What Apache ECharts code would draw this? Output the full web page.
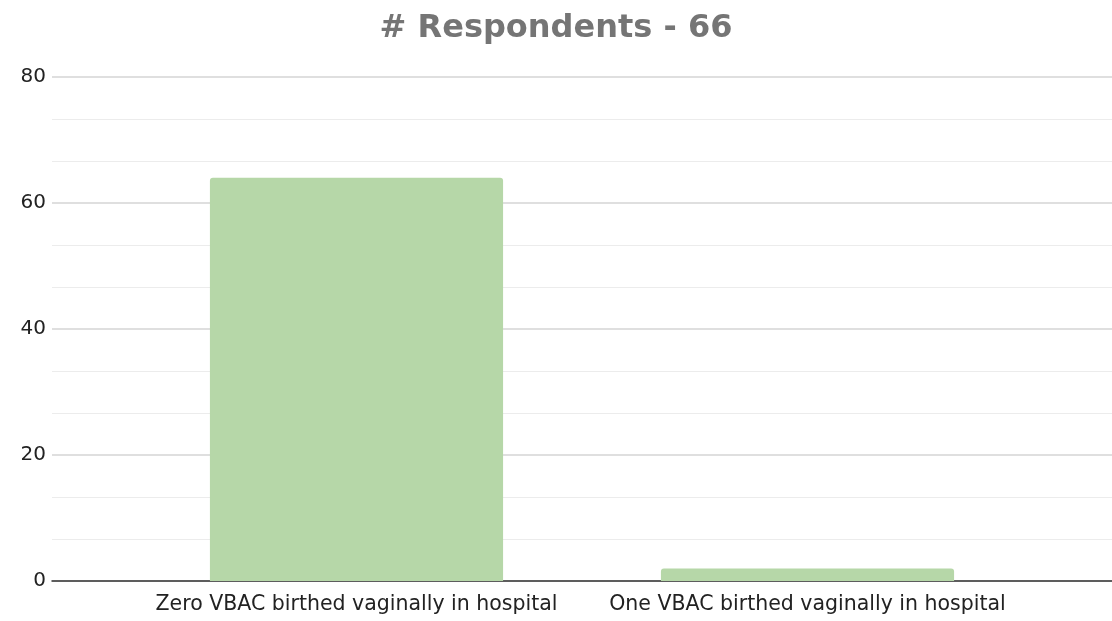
<!DOCTYPE html>
<html><head><meta charset="utf-8">
<script src="https://cdn.jsdelivr.net/npm/echarts@6/dist/echarts.min.js"></script>
<style>html,body{margin:0;padding:0;background:#fff}#c{width:1112px;height:621px}</style>
</head><body><div id="c"></div>
<script>
const titleText = '# Respondents - 66';
const categories = ['Zero VBAC birthed vaginally in hospital', 'One VBAC birthed vaginally in hospital'];
const values = [64, 2];
const yTicks = [0, 20, 40, 60, 80];

const chart = echarts.init(document.getElementById('c'));
const font = 'DejaVu Sans, Liberation Sans, Arial, sans-serif';
chart.setOption({
  animation: false,
  title: { text: titleText, left: 'center', top: 8, textStyle: { fontFamily: font, fontSize: 32, fontWeight: 'bold', color: '#757575' } },
  grid: [
    { left: 52, right: 0, top: 77, bottom: 40 },
    { left: 131, right: 79, top: 77, bottom: 40 }
  ],
  xAxis: [
    { type: 'category', gridIndex: 0, data: [''], axisLine: { show: true, lineStyle: { color: '#333', width: 1.5 } }, axisTick: { show: false }, axisLabel: { show: false } },
    { type: 'category', gridIndex: 1, data: categories, axisLine: { show: false }, axisTick: { show: false },
      axisLabel: { interval: 0, margin: 13, fontFamily: font, fontSize: 20.5, color: '#222' } }
  ],
  yAxis: [
    { type: 'value', gridIndex: 0, min: yTicks[0], max: yTicks[yTicks.length - 1], interval: 20,
      axisLine: { show: false }, axisTick: { show: false },
      axisLabel: { margin: 6, fontFamily: font, fontSize: 20, color: '#222' },
      splitLine: { lineStyle: { color: '#d4d4d4', width: 1.5 } },
      minorTick: { show: false, splitNumber: 3 },
      minorSplitLine: { show: true, lineStyle: { color: '#ececec', width: 1 } } },
    { type: 'value', gridIndex: 1, min: 0, max: 80, interval: 20, show: false, splitLine: { show: false } }
  ],
  series: [{
    type: 'bar', xAxisIndex: 1, yAxisIndex: 1, data: values, barWidth: '65%',
    itemStyle: { color: '#b6d7a8', borderRadius: [3, 3, 0, 0] }
  }]
});
</script></body></html>
